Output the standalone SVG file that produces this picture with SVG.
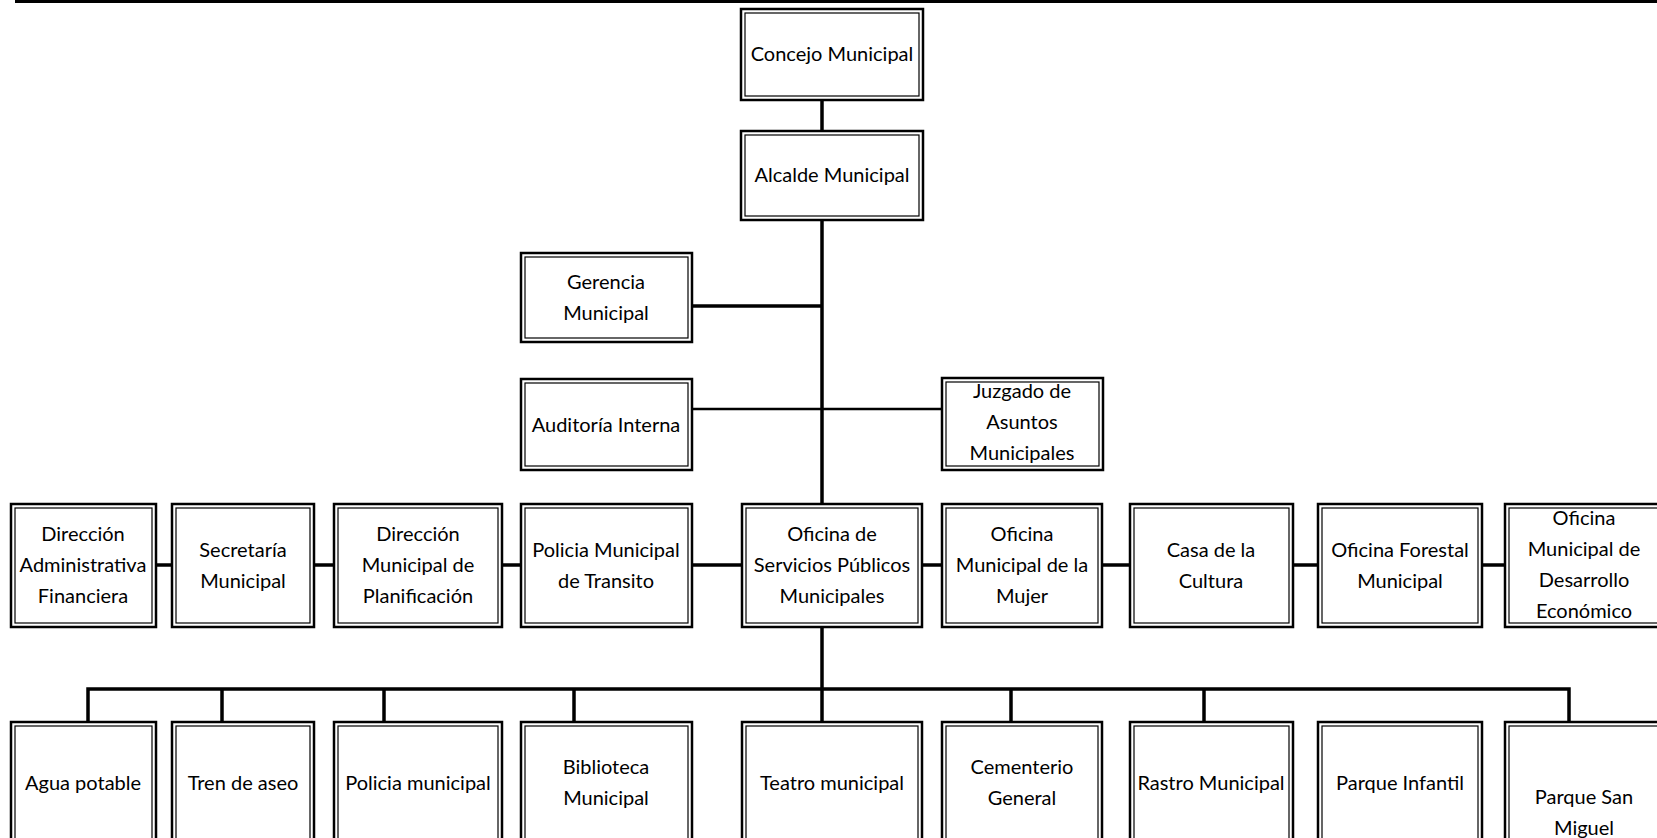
<svg xmlns="http://www.w3.org/2000/svg" width="1657" height="838" viewBox="0 0 1657 838">
<style>
.o{fill:#fff;stroke:#000;stroke-width:2.5}
.i{fill:none;stroke:#000;stroke-width:1.2}
text{font-family:Lato,"Open Sans","Liberation Sans",sans-serif;font-size:20px;fill:#000;text-anchor:middle}
.c{stroke:#000;fill:none;stroke-width:3.5}
.t{stroke:#000;fill:none;stroke-width:2.5}
</style>
<rect x="0" y="0" width="1657" height="838" fill="#fff"/>
<rect x="15" y="0" width="1642" height="3" fill="#000"/>
<g id="connectors">
<line class="c" x1="822" y1="100" x2="822" y2="131"/>
<line class="c" x1="822" y1="220" x2="822" y2="504"/>
<line class="c" x1="692" y1="306" x2="822" y2="306"/>
<line class="t" x1="692" y1="409" x2="942" y2="409"/>
<line class="c" x1="156" y1="565" x2="172" y2="565"/>
<line class="c" x1="314" y1="565" x2="334" y2="565"/>
<line class="c" x1="502" y1="565" x2="521" y2="565"/>
<line class="c" x1="692" y1="565" x2="742" y2="565"/>
<line class="c" x1="922" y1="565" x2="942" y2="565"/>
<line class="c" x1="1102" y1="565" x2="1130" y2="565"/>
<line class="c" x1="1293" y1="565" x2="1318" y2="565"/>
<line class="c" x1="1482" y1="565" x2="1505" y2="565"/>
<line class="c" x1="822" y1="627" x2="822" y2="722"/>
<polyline class="c" points="88,722 88,689 1569,689 1569,722"/>
<line class="c" x1="222" y1="689" x2="222" y2="722"/>
<line class="c" x1="384" y1="689" x2="384" y2="722"/>
<line class="c" x1="574" y1="689" x2="574" y2="722"/>
<line class="c" x1="1011" y1="689" x2="1011" y2="722"/>
<line class="c" x1="1204" y1="689" x2="1204" y2="722"/>
</g>
<g id="concejo"><rect class="o" x="741" y="9" width="182" height="91"/><rect class="i" x="745" y="13" width="174" height="83"/><text x="832" y="61">Concejo Municipal</text></g>
<g id="alcalde"><rect class="o" x="741" y="131" width="182" height="89"/><rect class="i" x="745" y="135" width="174" height="81"/><text x="832" y="182">Alcalde Municipal</text></g>
<g id="gerencia"><rect class="o" x="521" y="253" width="171" height="89"/><rect class="i" x="525" y="257" width="163" height="81"/><text x="606" y="289">Gerencia</text><text x="606" y="320">Municipal</text></g>
<g id="auditoria"><rect class="o" x="521" y="379" width="171" height="91"/><rect class="i" x="525" y="383" width="163" height="83"/><text x="606" y="432">Auditoría Interna</text></g>
<g id="juzgado"><rect class="o" x="942" y="378" width="161" height="92"/><rect class="i" x="946" y="382" width="153" height="84"/><text x="1022" y="398">Juzgado de</text><text x="1022" y="429">Asuntos</text><text x="1022" y="460">Municipales</text></g>
<g id="dir-admin"><rect class="o" x="11" y="504" width="145" height="123"/><rect class="i" x="15" y="508" width="137" height="115"/><text x="83" y="541">Dirección</text><text x="83" y="572">Administrativa</text><text x="83" y="603">Financiera</text></g>
<g id="secretaria"><rect class="o" x="172" y="504" width="142" height="123"/><rect class="i" x="176" y="508" width="134" height="115"/><text x="243" y="557">Secretaría</text><text x="243" y="588">Municipal</text></g>
<g id="dir-plan"><rect class="o" x="334" y="504" width="168" height="123"/><rect class="i" x="338" y="508" width="160" height="115"/><text x="418" y="541">Dirección</text><text x="418" y="572">Municipal de</text><text x="418" y="603">Planificación</text></g>
<g id="policia-transito"><rect class="o" x="521" y="504" width="171" height="123"/><rect class="i" x="525" y="508" width="163" height="115"/><text x="606" y="557">Policia Municipal</text><text x="606" y="588">de Transito</text></g>
<g id="servicios"><rect class="o" x="742" y="504" width="180" height="123"/><rect class="i" x="746" y="508" width="172" height="115"/><text x="832" y="541">Oficina de</text><text x="832" y="572">Servicios Públicos</text><text x="832" y="603">Municipales</text></g>
<g id="mujer"><rect class="o" x="942" y="504" width="160" height="123"/><rect class="i" x="946" y="508" width="152" height="115"/><text x="1022" y="541">Oficina</text><text x="1022" y="572">Municipal de la</text><text x="1022" y="603">Mujer</text></g>
<g id="cultura"><rect class="o" x="1130" y="504" width="163" height="123"/><rect class="i" x="1134" y="508" width="155" height="115"/><text x="1211" y="557">Casa de la</text><text x="1211" y="588">Cultura</text></g>
<g id="forestal"><rect class="o" x="1318" y="504" width="164" height="123"/><rect class="i" x="1322" y="508" width="156" height="115"/><text x="1400" y="557">Oficina Forestal</text><text x="1400" y="588">Municipal</text></g>
<g id="desarrollo"><rect class="o" x="1505" y="504" width="160" height="123"/><rect class="i" x="1509" y="508" width="152" height="115"/><text x="1584" y="525">Oficina</text><text x="1584" y="556">Municipal de</text><text x="1584" y="587">Desarrollo</text><text x="1584" y="618">Económico</text></g>
<g id="agua"><rect class="o" x="11" y="722" width="145" height="130"/><rect class="i" x="15" y="726" width="137" height="130"/><text x="83" y="790">Agua potable</text></g>
<g id="tren"><rect class="o" x="172" y="722" width="142" height="130"/><rect class="i" x="176" y="726" width="134" height="130"/><text x="243" y="790">Tren de aseo</text></g>
<g id="policia"><rect class="o" x="334" y="722" width="168" height="130"/><rect class="i" x="338" y="726" width="160" height="130"/><text x="418" y="790">Policia municipal</text></g>
<g id="biblioteca"><rect class="o" x="521" y="722" width="171" height="130"/><rect class="i" x="525" y="726" width="163" height="130"/><text x="606" y="774">Biblioteca</text><text x="606" y="805">Municipal</text></g>
<g id="teatro"><rect class="o" x="742" y="722" width="180" height="130"/><rect class="i" x="746" y="726" width="172" height="130"/><text x="832" y="790">Teatro municipal</text></g>
<g id="cementerio"><rect class="o" x="942" y="722" width="160" height="130"/><rect class="i" x="946" y="726" width="152" height="130"/><text x="1022" y="774">Cementerio</text><text x="1022" y="805">General</text></g>
<g id="rastro"><rect class="o" x="1130" y="722" width="163" height="130"/><rect class="i" x="1134" y="726" width="155" height="130"/><text x="1211" y="790">Rastro Municipal</text></g>
<g id="infantil"><rect class="o" x="1318" y="722" width="164" height="130"/><rect class="i" x="1322" y="726" width="156" height="130"/><text x="1400" y="790">Parque Infantil</text></g>
<g id="san-miguel"><rect class="o" x="1505" y="722" width="160" height="130"/><rect class="i" x="1509" y="726" width="152" height="130"/><text x="1584" y="804">Parque San</text><text x="1584" y="835">Miguel</text></g>
</svg>
